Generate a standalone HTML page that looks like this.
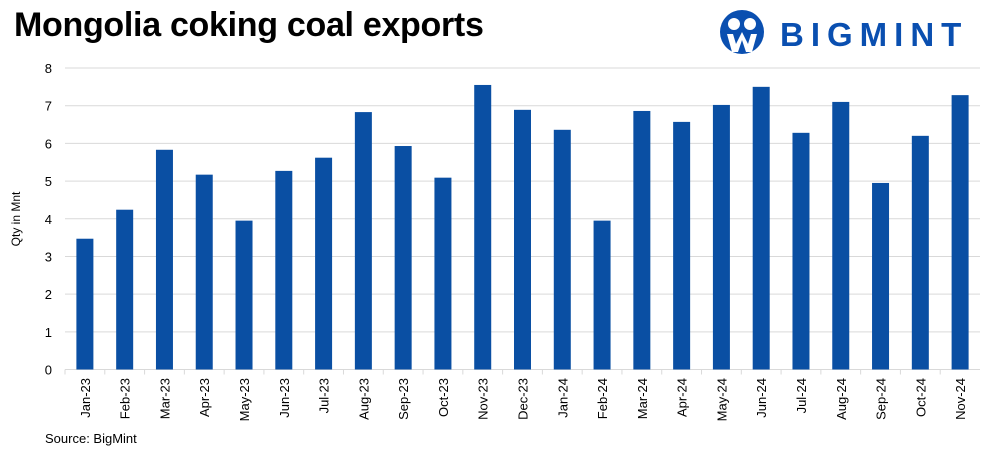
<!DOCTYPE html>
<html><head><meta charset="utf-8"><style>
body{margin:0;width:995px;height:467px;background:#fff;font-family:"Liberation Sans",sans-serif;overflow:hidden;position:relative}
#title{position:absolute;left:14px;top:6px;font-size:34px;font-weight:bold;color:#000;letter-spacing:-0.3px}
#logo{position:absolute;left:718px;top:8px}
#src{position:absolute;left:45px;top:431px;font-size:13px;color:#000}
</style></head><body>
<div id="title">Mongolia coking coal exports</div>
<svg id="logo" width="275" height="46">
<circle cx="24" cy="24" r="22" fill="#0a4fb0"/>
<circle cx="16" cy="16" r="6" fill="#fff"/><circle cx="32" cy="16" r="6" fill="#fff"/>
<path d="M9 26 L14 44 L20 44 L24 32 L28 44 L34 44 L39 26 L33 26 L30 36 L24 24 L18 36 L15 26Z" fill="#fff"/>
<text x="62" y="38" font-family="Liberation Sans,sans-serif" font-weight="bold" font-size="33" fill="#0a4fb0" letter-spacing="7">BIGMINT</text>
</svg>
<svg id="chart" width="995" height="467" style="position:absolute;left:0;top:0"></svg>
<div id="src">Source: BigMint</div>
<script>
const categories=["Jan-23","Feb-23","Mar-23","Apr-23","May-23","Jun-23","Jul-23","Aug-23","Sep-23","Oct-23","Nov-23","Dec-23","Jan-24","Feb-24","Mar-24","Apr-24","May-24","Jun-24","Jul-24","Aug-24","Sep-24","Oct-24","Nov-24"];
const values=[3.47,4.24,5.83,5.17,3.95,5.27,5.62,6.83,5.93,5.09,7.55,6.89,6.36,3.95,6.86,6.57,7.02,7.5,6.28,7.1,4.95,6.2,7.28];
const yTicks=[0,1,2,3,4,5,6,7,8];
const NS="http://www.w3.org/2000/svg";
const svg=document.getElementById('chart');
const x0=65,x1=980,y0=369.5,yTop=68;
const bw=(x1-x0)/categories.length;
const y=v=>y0-(y0-yTop)*v/8;
const xc=i=>x0+bw*(i+0.5);
function mk(t,a){const e=document.createElementNS(NS,t);for(const k in a)e.setAttribute(k,a[k]);svg.appendChild(e);return e;}
yTicks.forEach(t=>{
 if(t>0){const g=mk('line',{x1:x0,x2:x1,y1:y(t),y2:y(t),stroke:'#d9d9d9','stroke-width':1});
 
 }
 const l=mk('text',{x:52,y:y(t)+5,'text-anchor':'end','font-size':13,fill:'#000'});l.textContent=t;
 
 
});
const ax=mk('line',{x1:x0,x2:x1,y1:y0,y2:y0,stroke:'#d9d9d9','stroke-width':1});


categories.forEach((c,i)=>{
 const tk=mk('line',{x1:x0+bw*i,x2:x0+bw*i,y1:y0,y2:y0+5,stroke:'#d9d9d9'});
 
 
 const b=mk('rect',{x:xc(i)-8.5,y:y(values[i]),width:17,height:y0-y(values[i]),fill:'#0a4fa3'});
 
 
 const tx=mk('text',{transform:`translate(${xc(i)+5},378) rotate(-90)`,'text-anchor':'end','font-size':13,fill:'#000'});
 tx.textContent=c;
 
 
});
const yt=mk('text',{transform:'translate(20,219) rotate(-90)','text-anchor':'middle','font-size':12,fill:'#000'});
yt.textContent='Qty in Mnt';


</script>
</body></html>
